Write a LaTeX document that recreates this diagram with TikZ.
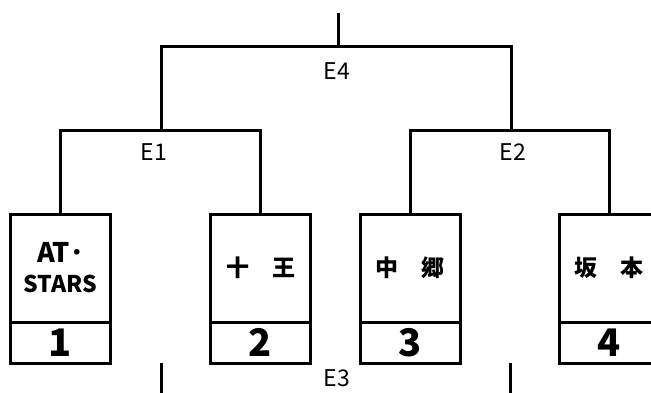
\documentclass[tikz,border=0pt]{standalone}
\usepackage{fontspec}
\setmainfont{Noto Sans CJK JP}
\usetikzlibrary{calc,positioning}

\begin{document}
\begin{tikzpicture}[x=1pt,y=-1pt,line width=3pt,
  team/.style={draw,rectangle,outer sep=0pt,minimum width=100pt,minimum height=108pt,inner sep=0pt,align=center,font=\bfseries\fontsize{23}{30}\selectfont},
  num/.style={draw,rectangle,outer sep=0pt,minimum width=100pt,minimum height=41pt,inner sep=0pt,font=\bfseries\fontsize{38}{38}\selectfont},
  lab/.style={inner sep=0pt,font=\fontsize{23}{23}\selectfont}]
  \useasboundingbox (0,0) rectangle (651,393);
  \clip (0,0) rectangle (651,393);

  \node[team] (t1) at (60.5,268) {\fontsize{27}{30}\selectfont AT･\\STARS};
  \node[team] (t2) at (260.5,268) {十　王};
  \node[team] (t3) at (410,268) {中　郷};
  \node[team] (t4) at (609,268) {坂　本};

  \node[num,below=0pt of t1] (n1) {1};
  \node[num,below=0pt of t2] (n2) {2};
  \node[num,below=0pt of t3] (n3) {3};
  \node[num,below=0pt of t4] (n4) {4};

  \coordinate (j1) at (161,131);
  \coordinate (j2) at (511,131);
  \coordinate (j4) at (338,47);
  \coordinate (top) at (338,13);
  \coordinate (b1) at (161,363);
  \coordinate (b2) at (510,363);

  \draw (t1.north) |- (j1) -| (t2.north);
  \draw (t3.north) |- (j2) -| (t4.north);
  \draw (j1) |- (j4) -| (j2);
  \draw (j4) -- (top);
  \draw (b1) -- ++(0,30);
  \draw (b2) -- ++(0,30);

  \node[lab] (e4) at (337,71) {E4};
  \node[lab] (e1) at (154,152) {E1};
  \node[lab] (e2) at (513,152) {E2};
  \node[lab] (e3) at (337,378) {E3};
\end{tikzpicture}
\end{document}
